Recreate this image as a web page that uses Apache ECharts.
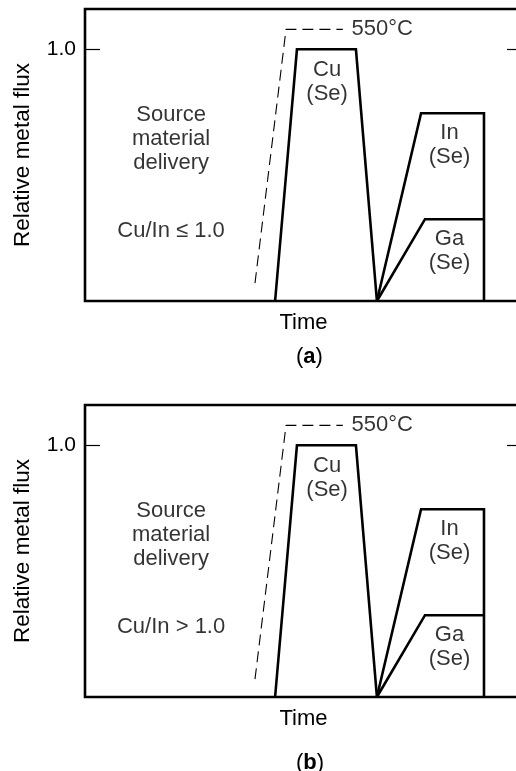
<!DOCTYPE html>
<html>
<head>
<meta charset="utf-8">
<style>
  html, body { margin: 0; padding: 0; background: #fff; }
  #chart { width: 516px; height: 771px; }
</style>
<script src="https://cdn.jsdelivr.net/npm/echarts@6/dist/echarts.min.js"></script>
</head>
<body>
<div id="chart"></div>
<script>
// time in arbitrary units (0..100 across the box), flux relative to Cu = 1.0
var cuFlux = [[43.5, 0], [48.5, 1.0], [62.0, 1.0], [66.8, 0]];
var inFlux = [[66.8, 0], [76.9, 0.746], [91.3, 0.746], [91.3, 0]];
var gaFlux = [[66.8, 0], [77.8, 0.325], [91.3, 0.325]];
var tempProfile = [[38.9, 0.071], [46.0, 1.079], [59.0, 1.079]];
var tempLabel = [{ name: '550°C', value: [61.0, 1.079] }];
var boxLabels = [
  { name: 'Cu\n(Se)', value: [55.4, 0.869] },
  { name: 'In\n(Se)', value: [83.4, 0.62] },
  { name: 'Ga\n(Se)', value: [83.4, 0.2] },
  { name: 'Source\nmaterial\ndelivery', value: [19.7, 0.645] }
];
var ratioNotes = ['Cu/In \u2264 1.0', 'Cu/In > 1.0'];
var ratioY = 0.277;
var panelTags = ['a', 'b'];
var yTicks = [1.0];

var FONT = '"Liberation Sans", Arial, Helvetica, sans-serif';
var INK = '#000';
var FS = 22;
var panelTop = [9, 405];
var tagTop = [341, 747];

var chartDom = document.getElementById('chart');
var myChart = echarts.init(chartDom);
var option;

var grids = [], xAxes = [], yAxes = [], series = [], titles = [];

panelTags.forEach(function (tag, i) {
  grids.push({
    left: 85, width: 437, top: panelTop[i], height: 292,
    outerBoundsMode: 'none', containLabel: false,
    show: true, borderColor: INK, borderWidth: 2.6, backgroundColor: 'transparent'
  });
  xAxes.push({
    gridIndex: i, type: 'value', min: 0, max: 100,
    name: 'Time', nameLocation: 'middle', nameGap: 11,
    nameTextStyle: { fontFamily: FONT, fontSize: FS, color: INK },
    axisLine: { show: false }, axisTick: { show: false },
    axisLabel: { show: false }, splitLine: { show: false }
  });
  yAxes.push({
    gridIndex: i, type: 'value', min: 0, max: 1.16, position: 'left',
    name: 'Relative metal flux', nameLocation: 'middle', nameGap: 51,
    nameTextStyle: { fontFamily: FONT, fontSize: 22.5, color: INK },
    axisLine: { show: false },
    axisTick: { show: true, inside: true, length: 15, customValues: yTicks,
      lineStyle: { color: INK, width: 1.2 } },
    axisLabel: { show: true, customValues: yTicks, margin: 9,
      fontFamily: FONT, fontSize: 21, color: INK,
      formatter: function (v) { return v.toFixed(1); } },
    splitLine: { show: false }
  });
  yAxes.push({
    gridIndex: i, type: 'value', min: 0, max: 1.16, position: 'right',
    axisLine: { show: false },
    axisTick: { show: true, inside: true, length: 15, customValues: yTicks,
      lineStyle: { color: INK, width: 1.2 } },
    axisLabel: { show: false }, splitLine: { show: false }
  });

  var fluxLine = function (data) {
    return {
      type: 'line', xAxisIndex: i, yAxisIndex: i * 2, data: data,
      symbol: 'none', silent: true, animation: false,
      lineStyle: { color: INK, width: 2.6, join: 'miter' }
    };
  };
  series.push(fluxLine(cuFlux), fluxLine(inFlux), fluxLine(gaFlux));
  series.push({
    type: 'line', xAxisIndex: i, yAxisIndex: i * 2, data: tempProfile,
    symbol: 'none', silent: true, animation: false,
    lineStyle: { color: INK, width: 1.1, type: [11, 6] }
  });
  var notes = boxLabels.concat([{ name: ratioNotes[i], value: [19.7, ratioY] }]);
  series.push({
    type: 'scatter', xAxisIndex: i, yAxisIndex: i * 2, data: notes,
    symbolSize: 0, silent: true, animation: false,
    label: { show: true, position: 'inside', formatter: '{b}',
      fontFamily: FONT, fontSize: FS, lineHeight: 24, color: INK, align: 'center' }
  });
  series.push({
    type: 'scatter', xAxisIndex: i, yAxisIndex: i * 2, data: tempLabel,
    symbolSize: 0, silent: true, animation: false,
    label: { show: true, position: 'right', distance: 0, formatter: '{b}',
      fontFamily: FONT, fontSize: FS, color: INK }
  });
  titles.push({
    text: '({b|' + tag + '})', left: 291, top: tagTop[i],
    textStyle: { fontFamily: FONT, fontSize: FS, fontWeight: 'normal', color: INK,
      rich: { b: { fontFamily: FONT, fontSize: FS, fontWeight: 'bold', color: INK } } }
  });
});

option = {
  backgroundColor: '#fff',
  animation: false,
  title: titles,
  grid: grids,
  xAxis: xAxes,
  yAxis: yAxes,
  series: series
};

option && myChart.setOption(option);
</script>
</body>
</html>
